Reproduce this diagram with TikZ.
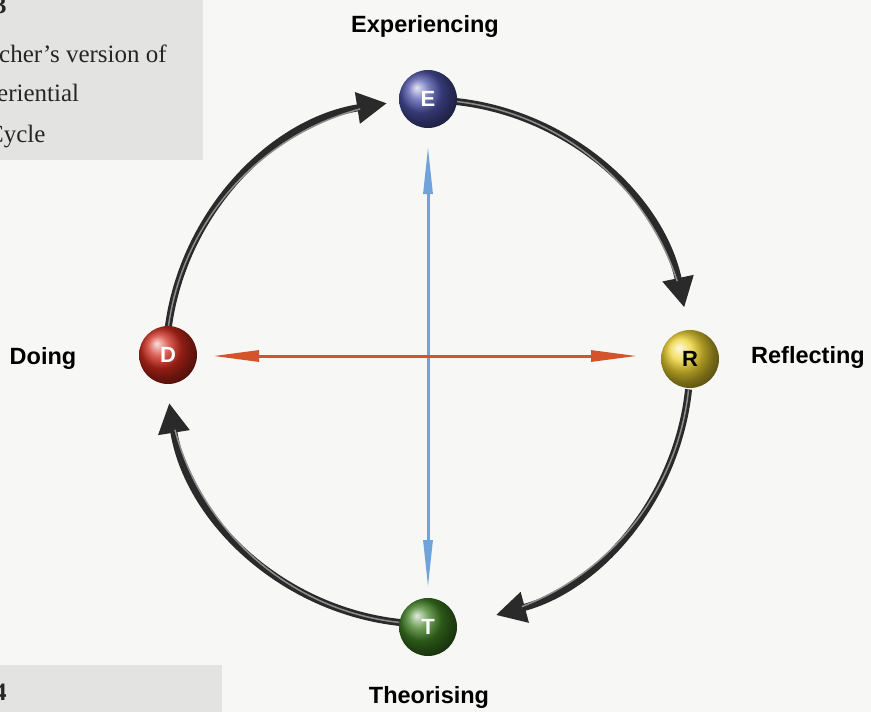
\documentclass[tikz,border=0pt]{standalone}
\usepackage{fontspec}
\setmainfont{Liberation Serif}
\setsansfont{Liberation Sans}
\usetikzlibrary{arrows.meta,shadings,calc}
\definecolor{bg}{HTML}{F7F7F5}
\definecolor{boxgray}{HTML}{E3E3E1}
\definecolor{arcdark}{HTML}{2A2A2A}
\definecolor{arclight}{HTML}{8E8E8E}
\definecolor{blueline}{HTML}{6FA3DA}
\definecolor{redline}{HTML}{D4532A}
\definecolor{ballE}{HTML}{4C52A8}
\definecolor{ballD}{HTML}{D02A1C}
\definecolor{ballR}{HTML}{EDD22E}
\definecolor{ballT}{HTML}{3F7F22}
\tikzset{
  ballnode/.style={circle, minimum size=58pt, inner sep=0pt, shading=ball, font=\sffamily\bfseries\fontsize{22}{22}\selectfont},
  lbl/.style={font=\sffamily\bfseries\fontsize{23.5}{23.5}\selectfont, text=black},
  boxtxt/.style={font=\fontsize{25}{25}\selectfont, anchor=base west, inner sep=0pt, text=black!85},
  cyclearc/.style={line width=7pt, draw=arcdark, -{Triangle[length=30pt,width=30pt,fill=arcdark]}},
  cycleinner/.style={line width=1.5pt, draw=arclight},
  axisblue/.style={line width=3pt, draw=blueline, {Stealth[length=48pt,width=9pt,inset=0pt]}-{Stealth[length=48pt,width=9pt,inset=0pt]}},
  axisred/.style={line width=3pt, draw=redline, {Stealth[length=46pt,width=11pt,inset=0pt]}-{Stealth[length=46pt,width=11pt,inset=0pt]}}
}
\begin{document}
\begin{tikzpicture}[x=1pt,y=-1pt]
\useasboundingbox (0,0) rectangle (871,712);
\fill[bg] (0,0) rectangle (871,712);
% grey side boxes
\fill[boxgray] (0,0) rectangle (203,160);
\fill[boxgray] (0,665) rectangle (222,712);
\node[boxtxt, font=\bfseries\fontsize{25}{25}\selectfont] (n3) at (-6,13) {3};
\node[boxtxt] (t1) at (-1,62) {cher’s version of};
\node[boxtxt] (t2) at (-3,101) {eriential};
\node[boxtxt] (t3) at (-13,142) {Cycle};
\node[boxtxt, font=\bfseries\fontsize{25}{25}\selectfont] (n4) at (-6,700) {4};
% centre
\coordinate (C) at (428,362);
% arcs (y points down, so clockwise on screen = increasing angle)
\def\rad{262}
\foreach \a/\b in {-84/-12, 6/75, 96/171, -174/-99}{
  \draw[cyclearc] ($(C)+(\a:\rad)$) arc[start angle=\a, end angle=\b, radius=\rad];
}
\foreach \a/\b in {-84/-18, 6/69, 96/165, -174/-105}{
  \draw[cycleinner] ($(C)+(\a:\rad)$) arc[start angle=\a, end angle=\b, radius=\rad];
}
% axes
\coordinate (bt) at (428,146);
\coordinate (bb) at (428,588);
\coordinate (rl) at (213,356);
\coordinate (rr) at (637,356);
\draw[axisblue] (bt) -- (bb);
\draw[axisred] (rl) -- (rr);
% balls
\node[ballnode, ball color=ballE, text=white] (E) at (428,99) {E};
\node[ballnode, ball color=ballR, text=black] (R) at (690,359) {R};
\node[ballnode, ball color=ballT, text=white] (T) at (428,627) {T};
\node[ballnode, ball color=ballD, text=white] (D) at (168,355) {D};
% labels
\node[lbl] (lE) at (425,26) {Experiencing};
\node[lbl] (lD) at (43,358) {Doing};
\node[lbl] (lR) at (808,357) {Reflecting};
\node[lbl] (lT) at (429,697) {Theorising};
\end{tikzpicture}
\end{document}
